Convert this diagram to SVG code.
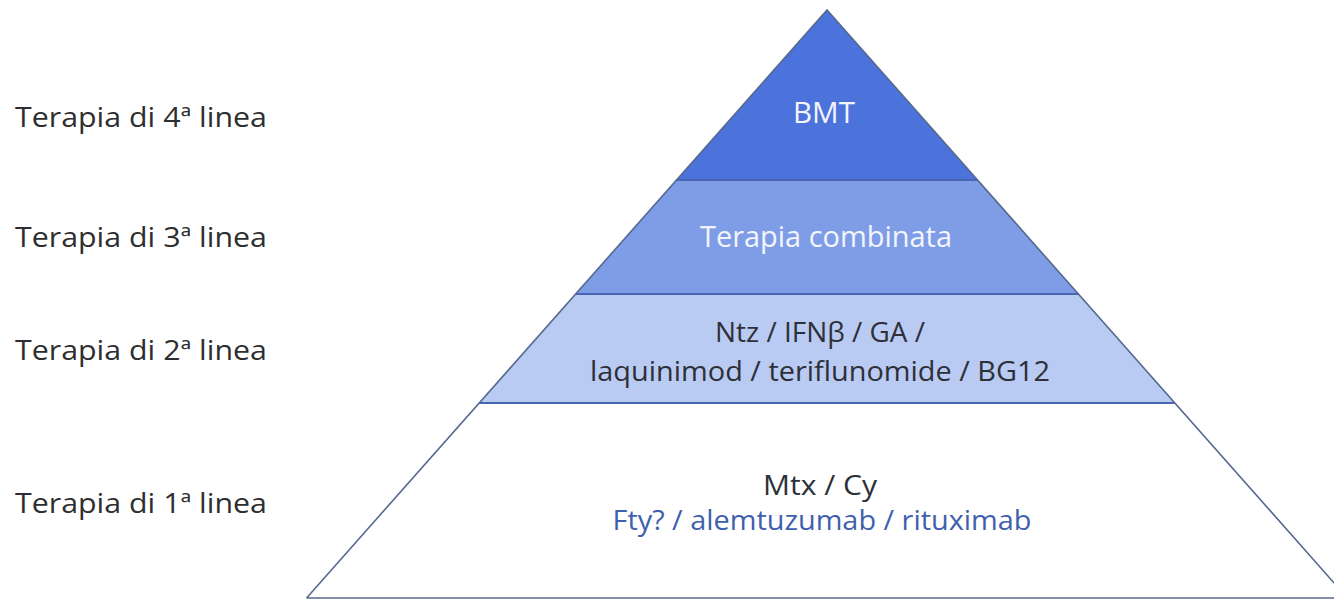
<svg xmlns="http://www.w3.org/2000/svg" width="1334" height="601" viewBox="0 0 1334 601">
  <style>
    .lbl { font-family: "Open Sans", "Liberation Sans", sans-serif; font-size: 28px; font-weight: 500; fill: #2e2e30; }
    .txt { font-family: "Open Sans", "Liberation Sans", sans-serif; font-size: 28px; font-weight: 500; fill: #2e3038; text-anchor: middle; }
    .light { fill: #f2f5fc; font-size: 29px; }
    .blue { fill: #3f60ad; }
    .edge { fill: none; stroke: #56698f; stroke-width: 1.6; }
    .sep { stroke: #4a66b0; stroke-width: 2.2; }
  </style>
  <rect width="1334" height="601" fill="#ffffff"/>

  <!-- band 4: apex -->
  <g id="band4">
    <polygon points="827,10 977.5,180 676.5,180" fill="#4c73db"/>
    <text class="txt light" x="824" y="123" textLength="62" lengthAdjust="spacingAndGlyphs">BMT</text>
  </g>

  <!-- band 3 -->
  <g id="band3">
    <polygon points="676.5,180 977.5,180 1078.3,294 575.7,294" fill="#7f9de6"/>
    <text class="txt light" x="826" y="247" textLength="252" lengthAdjust="spacingAndGlyphs">Terapia combinata</text>
  </g>

  <!-- band 2 -->
  <g id="band2">
    <polygon points="575.7,294 1078.3,294 1174.8,403 479.2,403" fill="#b9cbf3"/>
    <text class="txt" x="820" y="342" textLength="210" lengthAdjust="spacingAndGlyphs">Ntz / IFNβ / GA /</text>
    <text class="txt" x="820" y="381" textLength="460" lengthAdjust="spacingAndGlyphs">laquinimod / teriflunomide / BG12</text>
  </g>

  <!-- band 1: base -->
  <g id="band1">
    <polygon points="479.2,403 1174.8,403 1347.4,598 306.6,598" fill="#ffffff"/>
    <text class="txt" x="820" y="495" textLength="114" lengthAdjust="spacingAndGlyphs">Mtx / Cy</text>
    <text class="txt blue" x="822" y="530" textLength="419" lengthAdjust="spacingAndGlyphs">Fty? / alemtuzumab / rituximab</text>
  </g>

  <!-- outlines and band dividers -->
  <g id="connectors">
    <polyline class="edge" points="306.6,598 827,10 1347.4,598"/>
    <line class="edge" x1="306.6" y1="598" x2="1334" y2="598"/>
    <line class="sep" x1="676.5" y1="180" x2="977.5" y2="180"/>
    <line class="sep" x1="575.7" y1="294" x2="1078.3" y2="294"/>
    <line class="sep" x1="479.2" y1="403" x2="1174.8" y2="403"/>
  </g>

  <!-- row labels -->
  <g id="labels">
    <text class="lbl" x="15" y="127" textLength="252" lengthAdjust="spacingAndGlyphs">Terapia di 4ª linea</text>
    <text class="lbl" x="15" y="247" textLength="252" lengthAdjust="spacingAndGlyphs">Terapia di 3ª linea</text>
    <text class="lbl" x="15" y="360" textLength="252" lengthAdjust="spacingAndGlyphs">Terapia di 2ª linea</text>
    <text class="lbl" x="15" y="513" textLength="252" lengthAdjust="spacingAndGlyphs">Terapia di 1ª linea</text>
  </g>
</svg>
